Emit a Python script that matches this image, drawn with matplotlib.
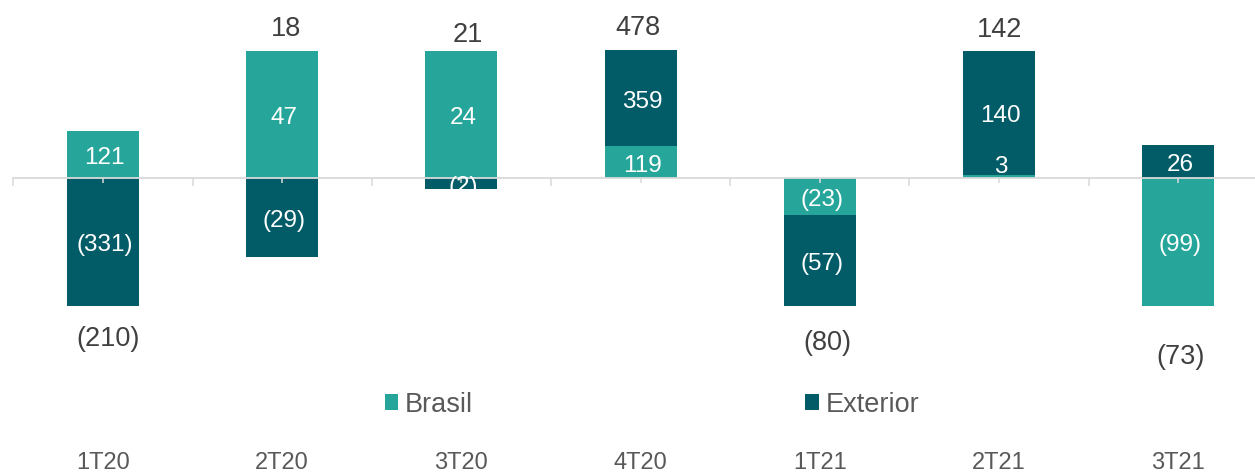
import matplotlib
matplotlib.use("Agg")
import matplotlib.pyplot as plt
from matplotlib.patches import Patch
import numpy as np

# ---- data ----
categories = ['1T20', '2T20', '3T20', '4T20', '1T21', '2T21', '3T21']
brasil = [121, 47, 24, 119, -23, 3, -99]
exterior = [-331, -29, -2, 359, -57, 140, 26]
totals = [-210, 18, 21, 478, -80, 142, -73]

# ---- layout (not data) ----
total_baseline_px = [40, 14, 9, 15.5, 44, 13.5, 59]   # baseline distance from bar end
total_dx_px = [5, 4, 6, -3, 8, 1, 2]                   # horizontal shift of total labels
inner_nudge_px = {(5, 0): 13}                          # (category, series) -> upward nudge

C_BR = '#26A69A'
C_EX = '#025C68'
AX_C = '#D9D9D9'

plt.rcParams['font.family'] = ['Liberation Sans', 'DejaVu Sans']

W, H, DPI = 1255, 472, 100
fig = plt.figure(figsize=(W / DPI, H / DPI), dpi=DPI)

px_per_unit = 127.5
zero_from_bottom = 294
x_left = 13.4
cat_w = 179.2
ax = fig.add_axes([x_left / W, 0, 7 * cat_w / W, 1])
ax.set_xlim(-0.5, 6.5)
ax.set_ylim(-zero_from_bottom / px_per_unit, (H - zero_from_bottom) / px_per_unit)

x = np.arange(len(categories))
br = np.array(brasil, float)
ex = np.array(exterior, float)
# each quarter drawn on its own scale (largest stacked extent -> one unit)
pos_sum = np.clip(br, 0, None) + np.clip(ex, 0, None)
neg_sum = np.clip(br, None, 0) + np.clip(ex, None, 0)
scale = np.maximum(pos_sum, -neg_sum)
brn = br / scale
exn = ex / scale

bw = 72 / cat_w
pos_base = np.zeros(len(x))
neg_base = np.zeros(len(x))
segs = []
for si, (vals, raw, col) in enumerate([(brn, br, C_BR), (exn, ex, C_EX)]):
    bottoms = np.where(vals >= 0, pos_base, neg_base)
    ax.bar(x, vals, bw, bottom=bottoms, color=col, linewidth=0, zorder=1)
    for i in range(len(x)):
        segs.append((i, si, bottoms[i] + vals[i] / 2, raw[i]))
    pos_base = pos_base + np.clip(vals, 0, None)
    neg_base = neg_base + np.clip(vals, None, 0)

def fmt(v):
    v = int(round(v))
    return f'({abs(v)})' if v < 0 else f'{v}'

px = 1.0 / px_per_unit
for i, si, yc, raw in segs:
    yb = yc - 9.5 * px + inner_nudge_px.get((i, si), 0) * px
    ax.text(i + 0.01, yb, fmt(raw), ha='center', va='baseline',
            color='white', fontsize=17.5, zorder=5)

for i, t in enumerate(totals):
    off = total_baseline_px[i] * px
    yy = pos_base[i] + off if t >= 0 else neg_base[i] - off
    ax.text(i + total_dx_px[i] / cat_w, yy, fmt(t), ha='center', va='baseline',
            color='#404040', fontsize=19.5, zorder=5)

# axis styling
for s in ['top', 'left', 'right']:
    ax.spines[s].set_visible(False)
ax.spines['bottom'].set_position(('data', 0))
ax.spines['bottom'].set_color(AX_C)
ax.spines['bottom'].set_linewidth(1.3)
ax.spines['bottom'].set_zorder(3)
ax.set_yticks([])
ax.set_xticks(np.arange(-0.5, 7.0, 1.0))
ax.set_xticklabels([])
ax.set_xticks(x, minor=True)
ax.set_xticklabels(categories, minor=True)
ax.tick_params(axis='x', which='major', length=5.5, width=1.1, color=AX_C)
ax.tick_params(axis='x', which='minor', length=3.5, width=1.1, color=AX_C,
               pad=194, labelsize=17, labelcolor='#595959')
ax.set_facecolor('none')

handles = [Patch(facecolor=C_BR, label='Brasil'), Patch(facecolor=C_EX, label='Exterior')]
fig.legend(handles=handles, loc='center', bbox_to_anchor=(652 / W, 1 - 404.5 / H),
           ncol=2, frameon=False, fontsize=19.5, labelcolor='#595959',
           handlelength=0.5, handleheight=0.5, handletextpad=0.25,
           columnspacing=12.25)

fig.savefig('out.png', dpi=DPI)
